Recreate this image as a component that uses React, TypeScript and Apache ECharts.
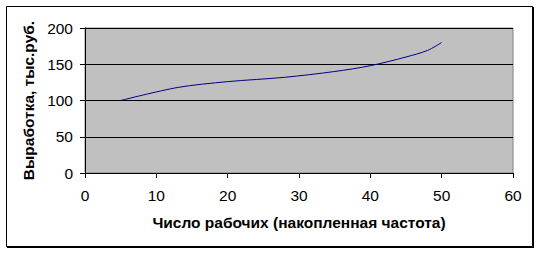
import React, { useEffect, useRef } from "react";
import * as echarts from "echarts";

const workers: number[] = [5, 13, 20, 28, 35, 40, 45, 48, 50];
const output: number[] = [100, 118, 126, 132, 140, 148, 160, 169, 180];
const xTicks = { min: 0, max: 60, interval: 10 };
const yTicks = { min: 0, max: 200, interval: 50 };
const xTitle = "Число рабочих (накопленная частота)";
const yTitle = "Выработка, тыс.руб.";

const FONT = "'Liberation Sans', Arial, sans-serif";

export default function App() {
  const ref = useRef<HTMLDivElement>(null);
  useEffect(() => {
    document.body.style.margin = "0";
    if (!ref.current) return;
    const chart = echarts.init(ref.current, undefined, { renderer: "svg" });
    const L = 85, T = 28, R = 513, B = 173;
    chart.setOption({
      animation: false,
      backgroundColor: "#ffffff",
      grid: { left: L, top: T, right: 540 - R, bottom: 254 - B, show: true, backgroundColor: "#C0C0C0", borderColor: "#808080", borderWidth: 1 },
      xAxis: {
        type: "value",
        min: xTicks.min, max: xTicks.max, interval: xTicks.interval,
        name: xTitle, nameLocation: "middle", nameGap: 41,
        nameTextStyle: { fontFamily: FONT, fontSize: 15.5, fontWeight: "bold", color: "#000" },
        axisLine: { show: true, onZero: false, lineStyle: { color: "#000", width: 1 } },
        axisTick: { show: true, length: 5, lineStyle: { color: "#000" } },
        axisLabel: { fontFamily: FONT, fontSize: 15.5, color: "#000", margin: 14 },
        splitLine: { show: false },
      },
      yAxis: {
        type: "value",
        min: yTicks.min, max: yTicks.max, interval: yTicks.interval,
        name: yTitle, nameLocation: "middle", nameGap: 48, nameRotate: 90,
        nameTextStyle: { fontFamily: FONT, fontSize: 15.5, fontWeight: "bold", color: "#000" },
        axisLine: { show: true, onZero: false, lineStyle: { color: "#000", width: 1 } },
        axisTick: { show: true, length: 5, lineStyle: { color: "#000" } },
        axisLabel: { fontFamily: FONT, fontSize: 15.5, color: "#000", margin: 12 },
        splitLine: { show: true, lineStyle: { color: "#000", width: 1 } },
      },
      series: [
        {
          type: "line",
          data: workers.map((w, i) => [w, output[i]]),
          smooth: 0.3,
          showSymbol: false,
          lineStyle: { color: "#000080", width: 1 },
        },
      ],
      graphic: [
        { type: "rect", shape: { x: 6.5, y: 6.5, width: 526, height: 240 }, style: { fill: "none", stroke: "#000", lineWidth: 1 }, silent: true },
        { type: "line", shape: { x1: 533.5, y1: 7, x2: 533.5, y2: 247.5 }, style: { stroke: "#000", lineWidth: 1 }, silent: true },
        { type: "line", shape: { x1: 7, y1: 247.5, x2: 534, y2: 247.5 }, style: { stroke: "#000", lineWidth: 1 }, silent: true },
      ],
    });
    return () => chart.dispose();
  }, []);
  return <div ref={ref} style={{ width: 540, height: 254 }} />;
}
